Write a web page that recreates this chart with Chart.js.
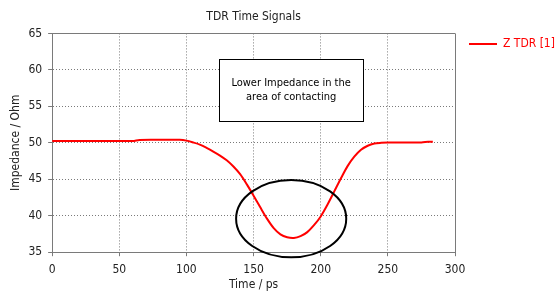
<!DOCTYPE html>
<html>
<head>
<meta charset="utf-8">
<script src="https://cdn.jsdelivr.net/npm/chart.js@4"></script>
<style>
  html, body { margin: 0; padding: 0; background: #fff; }
  #wrap { width: 558px; height: 292px; }
</style>
</head>
<body>
<div id="wrap"><canvas id="chart"></canvas></div>
<script>
// data
const timePs = [0, 30, 60, 65, 80, 95, 100, 105, 110, 115, 120, 125, 130, 135, 140, 145, 150,
  155, 160, 165, 170, 175, 180, 185, 190, 195, 200, 205, 210, 215, 220, 225,
  230, 235, 240, 245, 250, 260, 275, 280, 283.5];
const zTdr = [50.25, 50.25, 50.25, 50.4, 50.42, 50.41, 50.3, 50.05, 49.75, 49.3, 48.8, 48.25, 47.6, 46.75, 45.7, 44.3, 42.75,
  41.15, 39.6, 38.3, 37.45, 37.05, 36.95, 37.2, 37.75, 38.7, 39.9, 41.5, 43.3, 45.1, 46.8, 48.1,
  49.05, 49.6, 49.9, 50.0, 50.05, 50.05, 50.05, 50.15, 50.15];
const xTicks = [0, 50, 100, 150, 200, 250, 300];
const yTicks = [35, 40, 45, 50, 55, 60, 65];
const noteLines = ['Lower Impedance in the', 'area of contacting'];

const FONT = 'Tahoma, "DejaVu Sans Condensed", "Liberation Sans", sans-serif';
const gridGrey = '#7a7a7a';

// note box and ellipse, placed in data units
const notes = {
  id: 'notes',
  afterDatasetsDraw(chart) {
    const { ctx, scales: { x, y } } = chart;
    ctx.save();
    // ellipse round the dip
    const cx = x.getPixelForValue(178), cy = y.getPixelForValue(39.6);
    const rx = x.getPixelForValue(178 + 41) - cx;
    const ry = cy - y.getPixelForValue(39.6 + 5.3);
    ctx.beginPath();
    ctx.ellipse(cx, cy, rx, ry, 0, 0, Math.PI * 2);
    ctx.lineWidth = 2;
    ctx.strokeStyle = '#000';
    ctx.stroke();
    // text box
    const bx1 = x.getPixelForValue(124.3), bx2 = x.getPixelForValue(231.6);
    const by1 = y.getPixelForValue(61.45), by2 = y.getPixelForValue(53.0);
    ctx.fillStyle = '#fff';
    ctx.fillRect(bx1, by1, bx2 - bx1, by2 - by1);
    ctx.lineWidth = 1;
    ctx.strokeRect(Math.round(bx1) + 0.5, Math.round(by1) + 0.5, Math.round(bx2 - bx1), Math.round(by2 - by1));
    ctx.fillStyle = '#000';
    ctx.font = '11px ' + FONT;
    ctx.textAlign = 'center';
    ctx.textBaseline = 'middle';
    const mid = (bx1 + bx2) / 2, midY = (by1 + by2) / 2;
    ctx.fillText(noteLines[0], mid, midY - 7);
    ctx.fillText(noteLines[1], mid, midY + 7);
    ctx.restore();
  }
};

const edgeDash = (ctx, edge) => (ctx.tick && ctx.tick.value === edge ? [] : [1, 2]);

new Chart('chart', {
  type: 'line',
  data: {
    datasets: [{
      label: 'Z TDR [1]',
      data: timePs.map((t, i) => ({ x: t, y: zTdr[i] })),
      borderColor: '#ff0000',
      backgroundColor: '#ff0000',
      borderWidth: 2,
      pointRadius: 0,
      tension: 0.3,
      fill: false
    }]
  },
  options: {
    responsive: true,
    maintainAspectRatio: false,
    animation: false,
    layout: { padding: { top: 0, left: 9, right: 0, bottom: 0 } },
    plugins: {
      tooltip: { enabled: false },
      title: {
        display: true,
        text: 'TDR Time Signals',
        fullSize: false,
        color: '#222',
        font: { family: FONT, size: 12, weight: 'normal' },
        padding: { top: 10, bottom: 9 }
      },
      legend: {
        position: 'right',
        align: 'start',
        maxWidth: 103,
        title: { display: true, text: '', font: { size: 10 }, padding: { top: 12, bottom: 0 } },
        labels: {
          usePointStyle: true,
          pointStyle: 'line',
          pointStyleWidth: 28,
          boxHeight: 12,
          padding: 14,
          color: '#ff0000',
          font: { family: FONT, size: 12 }
        }
      }
    },
    scales: {
      x: {
        type: 'linear',
        min: 0,
        max: 300,
        afterBuildTicks: (s) => { s.ticks = xTicks.map(v => ({ value: v })); },
        ticks: { color: '#222', padding: 6, font: { family: FONT, size: 12 } },
        grid: {
          color: gridGrey,
          tickLength: 4,
          tickColor: gridGrey,
          lineWidth: 1
        },
        border: { display: true, color: gridGrey, width: 1, dash: (ctx) => edgeDash(ctx, 300) },
        title: { display: true, text: 'Time / ps', color: '#222', font: { family: FONT, size: 12 }, padding: { top: -5, bottom: 0 } }
      },
      y: {
        min: 35,
        max: 65,
        afterBuildTicks: (s) => { s.ticks = yTicks.map(v => ({ value: v })); },
        ticks: { color: '#222', padding: 6, font: { family: FONT, size: 12 } },
        grid: {
          color: gridGrey,
          tickLength: 4,
          tickColor: gridGrey,
          lineWidth: 1
        },
        border: { display: true, color: gridGrey, width: 1, dash: (ctx) => edgeDash(ctx, 65) },
        title: { display: true, text: 'Impedance / Ohm', color: '#222', font: { family: FONT, size: 12 }, padding: { top: 0, bottom: -1 } }
      }
    }
  },
  plugins: [notes]
});
</script>
</body>
</html>
